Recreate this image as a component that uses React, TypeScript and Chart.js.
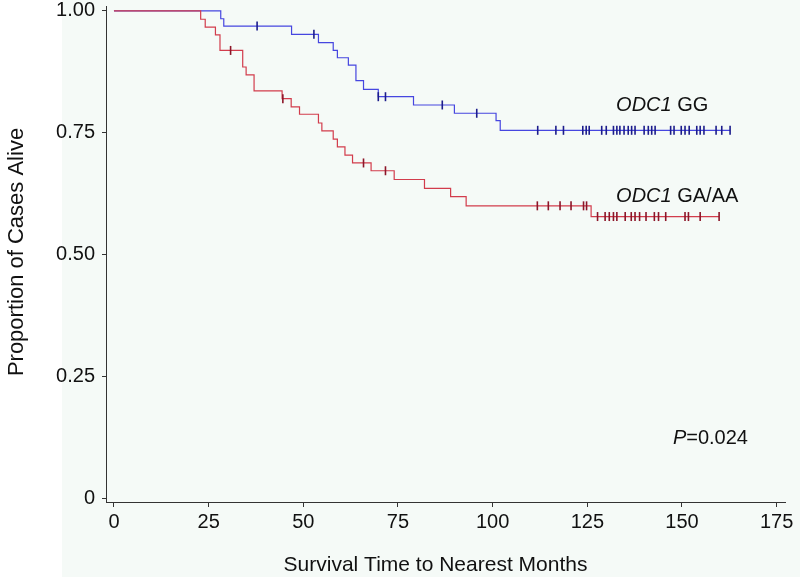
import React, { useEffect, useRef } from "react";
import { Chart, registerables } from "chart.js";

Chart.register(...registerables);

// Axis ticks
const xTicks = [0, 25, 50, 75, 100, 125, 150, 175];
const yTicks = [0, 0.25, 0.5, 0.75, 1];
const yTickLabels = ["0", "0.25", "0.50", "0.75", "1.00"];

// ODC1 GG (blue) Kaplan-Meier steps
const ggTimes = [0, 28.2, 29.0, 46.9, 54.0, 57.9, 59.0, 61.9, 63.9, 65.9, 69.8, 79.1, 89.9, 100.9, 102.0, 162.7];
const ggSurv = [1, 0.984, 0.969, 0.952, 0.935, 0.919, 0.904, 0.889, 0.857, 0.839, 0.824, 0.807, 0.79, 0.775, 0.755, 0.755];
const ggCensor = [
  37.8, 52.8, 69.8, 71.7, 86.7, 95.8, 111.9, 116.7, 118.7, 123.8, 124.7, 125.5, 128.8, 130, 131.9, 132.8,
  133.6, 134.7, 135.8, 136.7, 137.6, 140, 141.1, 142, 142.9, 147, 147.9, 149.8, 150.8, 151.9, 153.9, 154.8,
  155.8, 159, 160.5, 162.7,
];

// ODC1 GA/AA (red) Kaplan-Meier steps
const gaTimes = [0, 22.9, 24.1, 26.8, 28.0, 34.0, 34.9, 37.0, 44.4, 46.8, 49.0, 54.0, 54.9, 57.9, 59.0, 61.0, 63.0, 67.9, 74.0, 82.0, 88.9, 93.0, 126.0, 159.8];
const gaSurv = [1, 0.983, 0.967, 0.951, 0.919, 0.885, 0.869, 0.836, 0.82, 0.803, 0.788, 0.77, 0.754, 0.737, 0.721, 0.704, 0.688, 0.672, 0.654, 0.636, 0.619, 0.6, 0.578, 0.578];
const gaCensor = [
  30.8, 44.6, 65.9, 71.7, 111.8, 114.7, 117.8, 120.7, 124.0, 124.8, 127.7, 129.7, 130.8, 131.9, 132.8, 135.0,
  136.6, 137.6, 138.8, 140.5, 142.7, 143.8, 145.7, 150.8, 151.7, 154.8, 159.8,
];

const FONT = "'Liberation Sans', Arial, Helvetica, sans-serif";

function survAt(times: number[], surv: number[], t: number) {
  let v = surv[0];
  for (let i = 0; i < times.length; i++) {
    if (times[i] <= t + 1e-9) v = surv[i];
  }
  return v;
}

const toPoints = (times: number[], surv: number[]) => times.map((t, i) => ({ x: t, y: surv[i] }));
const censorPoints = (c: number[], times: number[], surv: number[]) => c.map((t) => ({ x: t, y: survAt(times, surv, t) }));

const bgPlugin = {
  id: "bg",
  beforeDraw(chart: any) {
    const ctx = chart.ctx;
    ctx.save();
    ctx.fillStyle = "#ffffff";
    ctx.fillRect(0, 0, chart.width, chart.height);
    ctx.fillStyle = "#f5faf7";
    ctx.fillRect(62, 0, chart.width - 62, chart.height);
    ctx.restore();
  },
};

const textPlugin = {
  id: "texts",
  afterDraw(chart: any) {
    const ctx = chart.ctx;
    const xs = chart.scales.x;
    const ys = chart.scales.y;
    ctx.save();
    ctx.fillStyle = "#111";
    ctx.textBaseline = "alphabetic";
    // axis titles
    ctx.font = `21px ${FONT}`;
    ctx.textAlign = "center";
    ctx.fillText("Survival Time to Nearest Months", (chart.chartArea.left + chart.chartArea.right) / 2 - 10, 571);
    ctx.save();
    ctx.font = `22px ${FONT}`;
    ctx.translate(23, 252);
    ctx.rotate(-Math.PI / 2);
    ctx.fillText("Proportion of Cases Alive", 0, 0);
    ctx.restore();

    const mixed = (parts: [string, boolean][], x: number, y: number) => {
      ctx.textAlign = "left";
      let cx = x;
      for (const [s, it] of parts) {
        ctx.font = `${it ? "italic " : ""}20px ${FONT}`;
        ctx.fillText(s, cx, y);
        cx += ctx.measureText(s).width;
      }
    };
    mixed([["ODC1", true], [" GG", false]], xs.getPixelForValue(132.6), ys.getPixelForValue(0.794));
    mixed([["ODC1", true], [" GA/AA", false]], xs.getPixelForValue(132.6), ys.getPixelForValue(0.608));
    mixed([["P", true], ["=0.024", false]], xs.getPixelForValue(147.6), ys.getPixelForValue(0.111));
    ctx.restore();
  },
};

export default function App() {
  const ref = useRef<HTMLCanvasElement>(null);
  useEffect(() => {
    document.body.style.margin = "0";
    const canvas = ref.current!;
    const chart = new Chart(canvas, {
      type: "scatter",
      data: {
        datasets: [
          {
            label: "GA/AA censored",
            data: censorPoints(gaCensor, gaTimes, gaSurv),
            pointStyle: "line",
            rotation: 90,
            radius: 4.5,
            borderColor: "#8c1528",
            backgroundColor: "#8c1528",
            borderWidth: 1.6,
            order: 0,
          } as any,
          {
            label: "GG censored",
            data: censorPoints(ggCensor, ggTimes, ggSurv),
            pointStyle: "line",
            rotation: 90,
            radius: 4.5,
            borderColor: "#1c1c8c",
            backgroundColor: "#1c1c8c",
            borderWidth: 1.6,
            order: 0,
          } as any,
          {
            label: "ODC1 GA/AA",
            data: toPoints(gaTimes, gaSurv),
            showLine: true,
            stepped: true,
            borderColor: "#d23c4c",
            borderWidth: 1.2,
            pointRadius: 0,
            order: 1,
          } as any,
          {
            label: "ODC1 GG",
            data: toPoints(ggTimes, ggSurv),
            showLine: true,
            stepped: true,
            borderColor: "#4646e0",
            borderWidth: 1.2,
            pointRadius: 0,
            order: 2,
          } as any,
        ],
      },
      options: {
        animation: false,
        responsive: false,
        devicePixelRatio: 1,
        layout: { padding: { top: 5, right: 15, left: 0, bottom: 0 } },
        plugins: { legend: { display: false }, tooltip: { enabled: false } },
        scales: {
          x: {
            type: "linear",
            min: -2.1,
            max: 177.2,
            afterBuildTicks: (s: any) => {
              s.ticks = xTicks.map((v) => ({ value: v }));
            },
            afterFit: (s: any) => {
              s.height = 75;
              s.paddingLeft = 0;
              s.paddingRight = 0;
            },
            grid: { drawOnChartArea: false, drawTicks: true, tickLength: 5, color: "#333", lineWidth: 1 },
            border: { display: true, color: "#333", width: 1 },
            ticks: {
              autoSkip: false,
              maxRotation: 0,
              padding: 3,
              color: "#111",
              font: { family: FONT, size: 20 },
              callback: (v: any) => String(v),
            },
          },
          y: {
            type: "linear",
            min: -0.008,
            max: 1.01,
            afterBuildTicks: (s: any) => {
              s.ticks = yTicks.map((v) => ({ value: v }));
            },
            afterFit: (s: any) => {
              s.width = 106;
              s.paddingTop = 0;
              s.paddingBottom = 0;
            },
            grid: { drawOnChartArea: false, drawTicks: true, tickLength: 4, color: "#333", lineWidth: 1 },
            border: { display: true, color: "#333", width: 1 },
            ticks: {
              autoSkip: false,
              padding: 7,
              color: "#111",
              font: { family: FONT, size: 20 },
              callback: (v: any) => {
                const i = yTicks.indexOf(Number(v));
                return i >= 0 ? yTickLabels[i] : "";
              },
            },
          },
        },
      },
      plugins: [bgPlugin, textPlugin],
    });
    return () => chart.destroy();
  }, []);
  return <canvas ref={ref} width={800} height={577} style={{ display: "block" }} />;
}
